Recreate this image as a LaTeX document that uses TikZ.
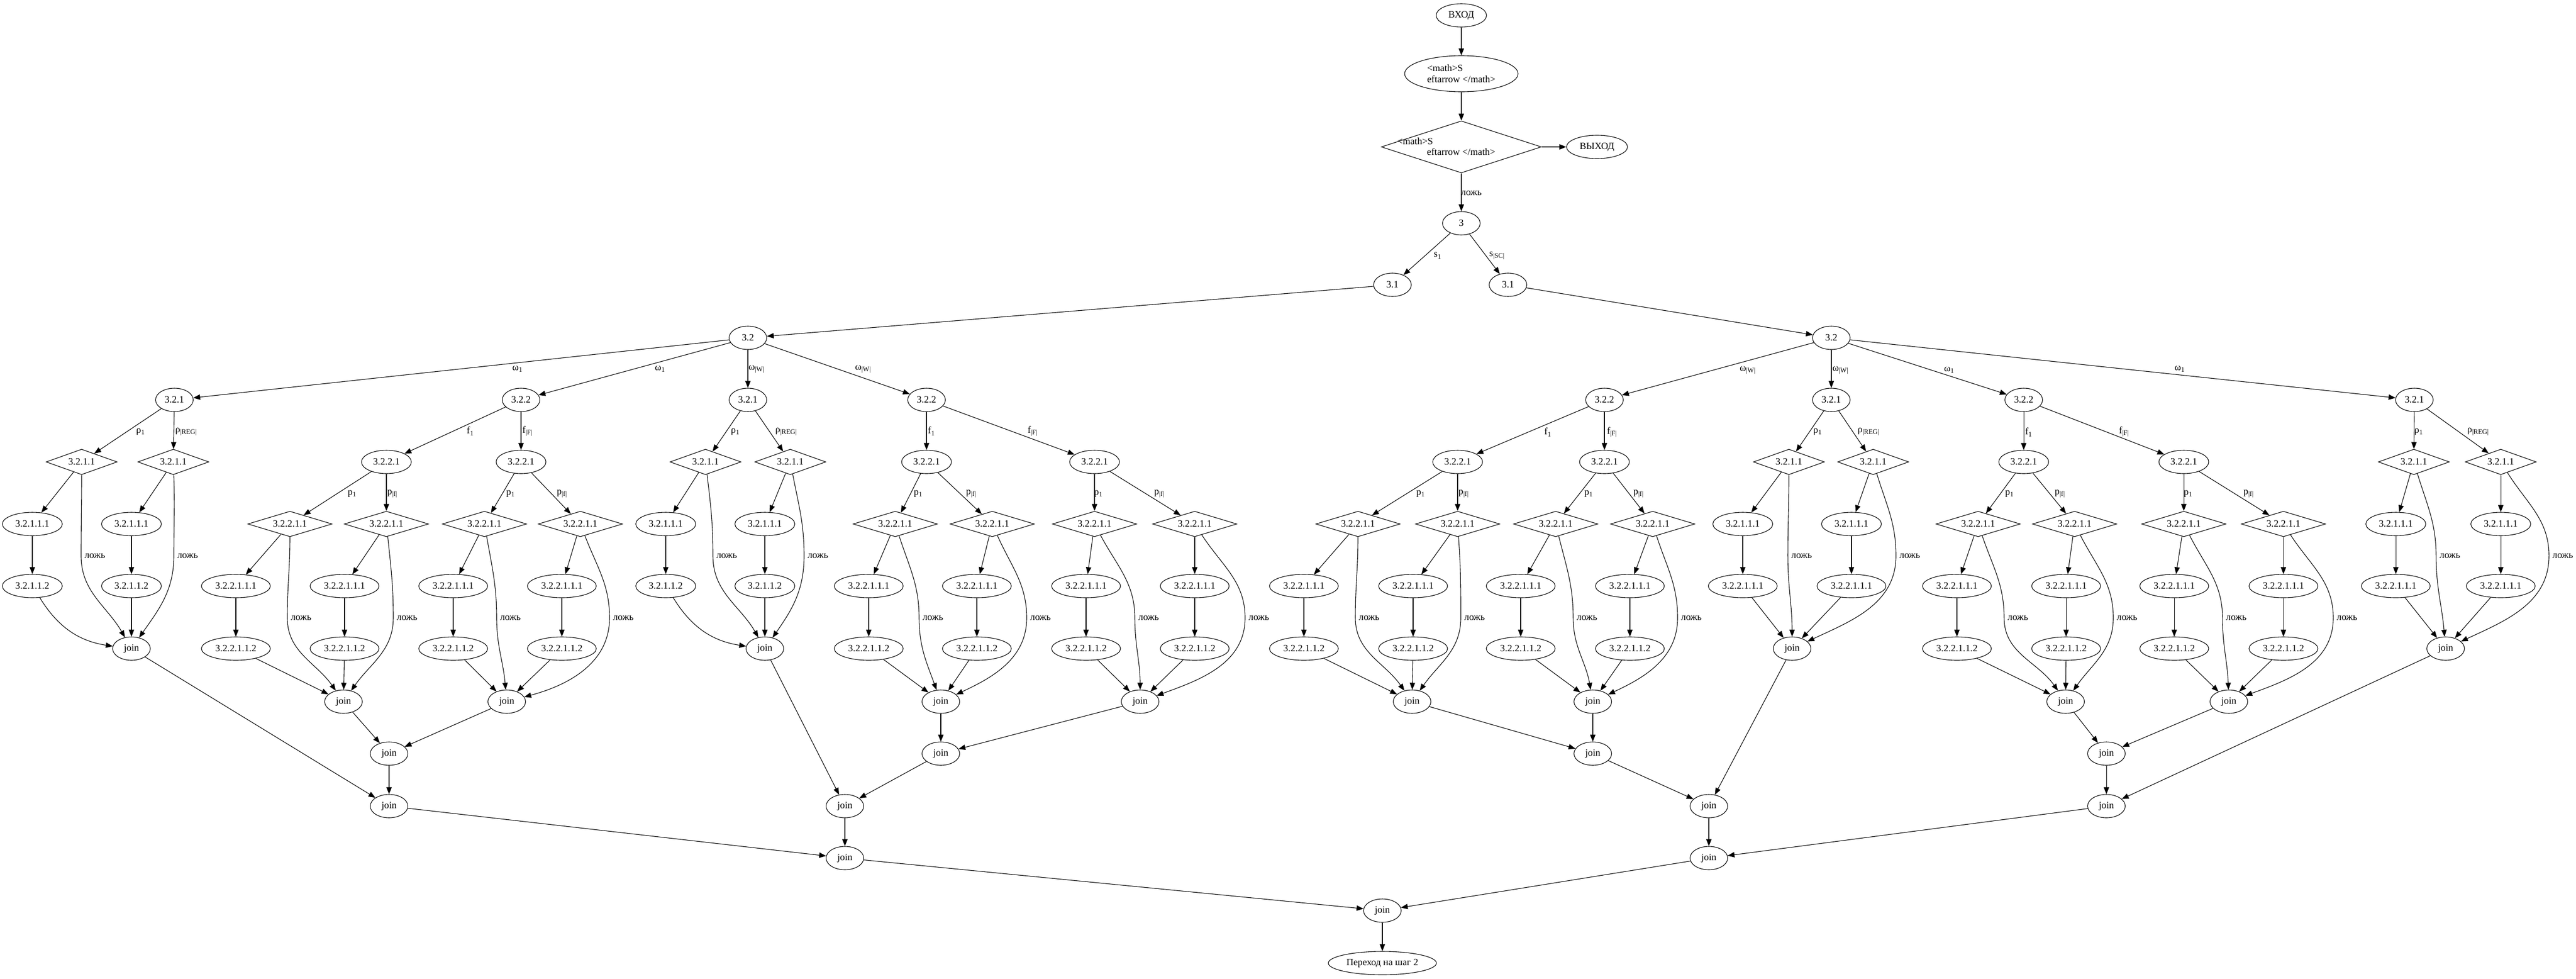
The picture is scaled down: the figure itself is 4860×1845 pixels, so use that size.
\documentclass[tikz,border=0pt]{standalone}
\usepackage{fontspec}
\setmainfont{Liberation Serif}
\usetikzlibrary{shapes.geometric,arrows.meta}
\newcommand\gvf{\fontsize{18.3pt}{21pt}\selectfont}
\newcommand\sbs[1]{\raisebox{-0.4ex}{\fontsize{13pt}{13pt}\selectfont #1}}
\begin{document}
\begin{tikzpicture}[x=1pt,y=1pt,
  every node/.style={font=\gvf},
  oval/.style={ellipse,draw,line width=1.1pt,inner sep=0pt,minimum height=44pt,minimum width=#1},
  oval/.default=71pt,
  dmd/.style={diamond,draw,line width=1.1pt,inner sep=0pt,shape aspect=3.3,minimum height=48pt,minimum width=#1},
  arr/.style={line width=1.1pt,-{Triangle[length=13pt,width=10pt]}},
  lbl/.style={inner sep=0pt}]
\useasboundingbox (0,0) rectangle (4860,-1845);
% ---------- top ----------
\node[oval=95pt] (vin) at (2757,-29) {ВХОД};
\node[oval=214pt,minimum height=68pt,align=left] (mth) at (2757,-139) {<math>S\\eftarrow </math>};
\node[dmd=302pt,minimum height=98pt] (cond) at (2757,-277) {};
\node[lbl,anchor=west] (ct1) at (2636,-266) {<math>S};
\node[lbl,anchor=west] (ct2) at (2692,-286) {eftarrow </math>};
\node[oval=115pt] (vout) at (3013,-277) {ВЫХОД};
\node[oval] (n3) at (2757,-421) {3};
\node[oval] (n31a) at (2627,-537) {3.1};
\node[oval] (n31b) at (2845,-537) {3.1};
\node[oval] (n32a) at (1411,-637) {3.2};
\node[oval] (n32b) at (3455,-637) {3.2};
\draw[arr] (vin) -- (mth);
\draw[arr] (mth) -- (cond);
\draw[arr] (cond) -- (vout);
\draw[arr] (cond) -- (n3);
\node[lbl] (lz0) at (2776,-364) {ложь};
\draw[arr] (n3) -- (n31a); \node[lbl] at (2712,-482) {s\sbs{1}};
\draw[arr] (n3) -- (n31b); \node[lbl] at (2824,-482) {s\sbs{|SC|}};
\draw[arr] (n31a) -- (n32a);
\draw[arr] (n31b) -- (n32b);
% ---------- second level ----------
\node[oval] (a1) at (329,-754) {3.2.1};
\node[oval] (a2) at (983,-754) {3.2.2};
\node[oval] (a3) at (1411,-754) {3.2.1};
\node[oval] (a4) at (1748,-754) {3.2.2};
\node[oval] (b1) at (3027,-754) {3.2.2};
\node[oval] (b2) at (3455,-754) {3.2.1};
\node[oval] (b3) at (3818,-754) {3.2.2};
\node[oval] (b4) at (4555,-754) {3.2.1};
\draw[arr] (n32a) -- (a1); \node[lbl] at (976,-696) {ω\sbs{1}};
\draw[arr] (n32a) -- (a2); \node[lbl] at (1245,-696) {ω\sbs{1}};
\draw[arr] (n32a) -- (a3); \node[lbl] at (1427,-696) {ω\sbs{|W|}};
\draw[arr] (n32a) -- (a4); \node[lbl] at (1628,-696) {ω\sbs{|W|}};
\draw[arr] (n32b) -- (b1); \node[lbl] at (3297,-698) {ω\sbs{|W|}};
\draw[arr] (n32b) -- (b2); \node[lbl] at (3472,-698) {ω\sbs{|W|}};
\draw[arr] (n32b) -- (b3); \node[lbl] at (3677,-698) {ω\sbs{1}};
\draw[arr] (n32b) -- (b4); \node[lbl] at (4112,-696) {ω\sbs{1}};
% ---------- 3.2.1 subtrees ----------
\foreach \P/\pp/\da/\db/\ca/\cb/\jx/\ra/\rb/\la/\lb/\oa/\ia/\ob/\ib/\tx/\tw/\bb in {
L1/a1/154/327/61/248/248/265/351/179/354/-90/120/-88/55/3.2.1.1.2/113pt/25,
L2/a3/1331/1491/1256/1443/1443/1387/1483/1371/1543/-83/120/-79/55/3.2.1.1.2/113pt/25,
R1/b2/3375/3534/3288/3493/3381/3429/3525/3399/3603/-90/90/-73/25/3.2.2.1.1.1/130pt/0,
R2/b4/4554/4718/4520/4718/4614/4563/4675/4622/4835/-73/95/-58/25/3.2.2.1.1.1/130pt/0}{
 \node[dmd=134pt] (\P-d1) at (\da,-871) {3.2.1.1};
 \node[dmd=134pt] (\P-d2) at (\db,-871) {3.2.1.1};
 \node[oval=113pt] (\P-c1) at (\ca,-988) {3.2.1.1.1};
 \node[oval=113pt] (\P-c2) at (\cb,-988) {3.2.1.1.1};
 \node[oval=\tw] (\P-e1) at (\ca,-1105) {\tx};
 \node[oval=\tw] (\P-e2) at (\cb,-1105) {\tx};
 \node[oval] (\P-j) at (\jx,-1223) {join};
 \draw[arr] (\pp) -- (\P-d1);
 \draw[arr] (\pp) -- (\P-d2);
 \node[lbl] at (\ra,-814) {ρ\sbs{1}};
 \node[lbl] at (\rb,-814) {ρ\sbs{|REG|}};
 \draw[arr] (\P-d1) -- (\P-c1);
 \draw[arr] (\P-d2) -- (\P-c2);
 \draw[arr] (\P-c1) -- (\P-e1);
 \draw[arr] (\P-c2) -- (\P-e2);
 \draw[arr] (\P-e1) to[bend right=\bb] (\P-j);
 \draw[arr] (\P-e2) -- (\P-j);
 \draw[arr] (\P-d1) to[out=\oa,in=90] ({\la-26},-1048) to[out=-90,in=\ia] (\P-j);
 \draw[arr] (\P-d2) to[out=\ob,in=90] ({\lb-26},-1048) to[out=-90,in=\ib] (\P-j);
 \node[lbl] at (\la,-1048) {ложь};
 \node[lbl] at (\lb,-1048) {ложь};
}
% ---------- 3.2.2.1 subtrees ----------
\foreach \P/\px/\da/\db/\ca/\cb/\jx/\pa/\pb/\la/\lb/\oa/\ia/\ob/\ib in {
A/729/547/729/445/650/648/664/740/568/768/-90/125/-84/55,
B/983/914/1095/855/1060/956/963/1060/963/1176/-80/95/-69/15,
C/1748/1689/1872/1639/1843/1775/1732/1832/1760/1963/-72/110/-66/25,
D/2065/2065/2254/2049/2254/2151/2072/2187/2167/2375/-62/90/-57/20,
E/2750/2562/2750/2460/2666/2664/2680/2761/2583/2782/-90/125/-86/55,
F/3027/2935/3118/2869/3075/3005/2997/3091/2994/3191/-76/100/-72/25,
G/3818/3732/3914/3692/3898/3897/3791/3886/3807/4013/-71/125/-63/55,
H/4120/4120/4308/4102/4308/4205/4128/4242/4219/4428/-63/92/-57/20}{
 \node[oval=94pt] (\P) at (\px,-871) {3.2.2.1};
 \node[dmd=159pt] (\P-d1) at (\da,-988) {3.2.2.1.1};
 \node[dmd=159pt] (\P-d2) at (\db,-988) {3.2.2.1.1};
 \node[oval=130pt] (\P-c1) at (\ca,-1105) {3.2.2.1.1.1};
 \node[oval=130pt] (\P-e1) at (\ca,-1223) {3.2.2.1.1.2};
 \node[oval=130pt] (\P-c2) at (\cb,-1105) {3.2.2.1.1.1};
 \node[oval=130pt] (\P-e2) at (\cb,-1223) {3.2.2.1.1.2};
 \node[oval] (\P-j) at (\jx,-1323) {join};
 \draw[arr] (\P) -- (\P-d1);
 \draw[arr] (\P) -- (\P-d2);
 \node[lbl] at (\pa,-931) {p\sbs{1}};
 \node[lbl] at (\pb,-931) {p\sbs{|f|}};
 \draw[arr] (\P-d1) -- (\P-c1);
 \draw[arr] (\P-c1) -- (\P-e1);
 \draw[arr] (\P-e1) -- (\P-j);
 \draw[arr] (\P-d2) -- (\P-c2);
 \draw[arr] (\P-c2) -- (\P-e2);
 \draw[arr] (\P-e2) -- (\P-j);
 \draw[arr] (\P-d1) to[out=\oa,in=90] ({\la-26},-1165) to[out=-90,in=\ia] (\P-j);
 \draw[arr] (\P-d2) to[out=\ob,in=90] ({\lb-26},-1165) to[out=-90,in=\ib] (\P-j);
 \node[lbl] at (\la,-1165) {ложь};
 \node[lbl] at (\lb,-1165) {ложь};
}
\draw[arr] (a2) -- (A); \node[lbl] at (887,-813) {f\sbs{1}};
\draw[arr] (a2) -- (B); \node[lbl] at (995,-813) {f\sbs{|F|}};
\draw[arr] (a4) -- (C); \node[lbl] at (1757,-813) {f\sbs{1}};
\draw[arr] (a4) -- (D); \node[lbl] at (1948,-813) {f\sbs{|F|}};
\draw[arr] (b1) -- (E); \node[lbl] at (2920,-815) {f\sbs{1}};
\draw[arr] (b1) -- (F); \node[lbl] at (3041,-815) {f\sbs{|F|}};
\draw[arr] (b3) -- (G); \node[lbl] at (3827,-815) {f\sbs{1}};
\draw[arr] (b3) -- (H); \node[lbl] at (4007,-814) {f\sbs{|F|}};
% ---------- bottom joins ----------
\node[oval] (jAB) at (734,-1421) {join};
\node[oval] (jL1E) at (734,-1520) {join};
\node[oval] (jCD) at (1775,-1421) {join};
\node[oval] (jL2) at (1594,-1520) {join};
\node[oval] (jLL) at (1594,-1618) {join};
\node[oval] (jEF) at (3005,-1421) {join};
\node[oval] (jR1) at (3224,-1520) {join};
\node[oval] (jGH) at (3974,-1421) {join};
\node[oval] (jR2) at (3974,-1520) {join};
\node[oval] (jRR) at (3224,-1618) {join};
\node[oval] (fin) at (2608,-1717) {join};
\node[oval=204pt] (goto) at (2608,-1816) {Переход на шаг 2};
\draw[arr] (A-j) -- (jAB);
\draw[arr] (B-j) -- (jAB);
\draw[arr] (jAB) -- (jL1E);
\draw[arr] (L1-j) -- (jL1E);
\draw[arr] (C-j) -- (jCD);
\draw[arr] (D-j) -- (jCD);
\draw[arr] (jCD) -- (jL2);
\draw[arr] (L2-j) -- (jL2);
\draw[arr] (jL2) -- (jLL);
\draw[arr] (jL1E) -- (jLL);
\draw[arr] (E-j) -- (jEF);
\draw[arr] (F-j) -- (jEF);
\draw[arr] (jEF) -- (jR1);
\draw[arr] (R1-j) -- (jR1);
\draw[arr] (G-j) -- (jGH);
\draw[arr] (H-j) -- (jGH);
\draw[arr] (jGH) -- (jR2);
\draw[arr] (R2-j) -- (jR2);
\draw[arr] (jR1) -- (jRR);
\draw[arr] (jR2) -- (jRR);
\draw[arr] (jLL) -- (fin);
\draw[arr] (jRR) -- (fin);
\draw[arr] (fin) -- (goto);
\end{tikzpicture}
\end{document}
